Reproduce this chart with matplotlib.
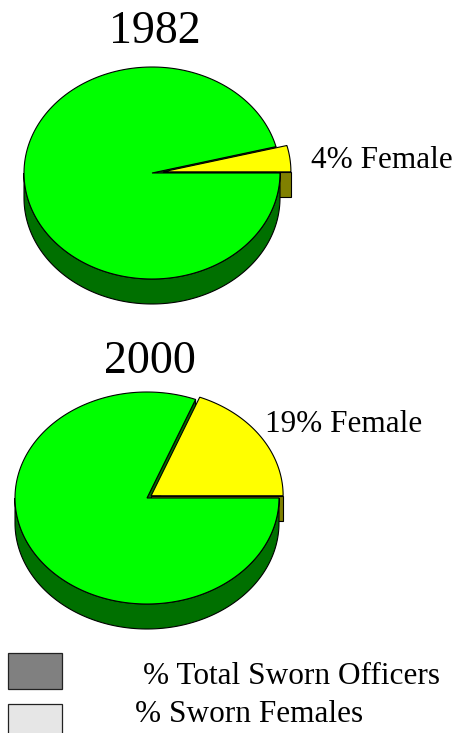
import numpy as np
import matplotlib.pyplot as plt
from matplotlib.patches import Polygon, Rectangle

# Dados do gráfico
years = ['1982', '2000']
female_pct = [4, 19]
slice_labels = ['4% Female', '19% Female']
legend_labels = ['% Total Sworn Officers', '% Sworn Females']
legend_colors = ['#808080', '#e6e6e6']

# Cores
GREEN = '#00ff00'
DARK_GREEN = '#007000'
YELLOW = '#ffff00'
OLIVE = '#808000'

plt.rcParams['font.family'] = ['Liberation Serif', 'DejaVu Serif']

fig = plt.figure(figsize=(4.70, 7.33), dpi=100)
ax = fig.add_axes([0, 0, 1, 1])
ax.set_xlim(0, 470)
ax.set_ylim(733, 0)
ax.axis('off')


def rim(cx, cy, rx, ry, ang, dz=0):
    a = np.radians(ang)
    return np.column_stack([cx + rx * np.cos(a), cy - ry * np.sin(a) + dz])


def draw_pie(ax, cx, cy, rx, ry, depth, pct, explode):
    t2 = 360 * pct / 100
    lw = 0.8
    # deslocamento da fatia amarela
    mid = np.radians(t2 / 2)
    ox = explode * np.cos(mid)
    oy = -explode * (ry / rx) * np.sin(mid)

    # face radial da fatia verde (visível no vão)
    p = rim(cx, cy, rx, ry, np.array([t2]))[0]
    ax.add_patch(Polygon([[cx, cy], p, [p[0], p[1] + depth], [cx, cy + depth]],
                         closed=True, fc=DARK_GREEN, ec='black', lw=lw, zorder=1))

    # face radial da fatia amarela (ângulo 0)
    ycx, ycy = cx + ox, cy + oy
    p = rim(ycx, ycy, rx, ry, np.array([0.0]))[0]
    ax.add_patch(Polygon([[ycx, ycy], p, [p[0], p[1] + depth], [ycx, ycy + depth]],
                         closed=True, fc=OLIVE, ec='black', lw=lw, zorder=2))

    # topo da fatia amarela
    angs = np.linspace(0, t2, 60)
    pts = np.vstack([[ycx, ycy], rim(ycx, ycy, rx, ry, angs)])
    ax.add_patch(Polygon(pts, closed=True, fc=YELLOW, ec='black', lw=lw, zorder=3))

    # lateral da fatia verde (metade frontal)
    angs = np.linspace(max(t2, 180), 360, 120)
    top = rim(cx, cy, rx, ry, angs)
    bot = rim(cx, cy, rx, ry, angs[::-1], depth)
    ax.add_patch(Polygon(np.vstack([top, bot]), closed=True, fc=DARK_GREEN,
                         ec='black', lw=lw, zorder=4))

    # topo da fatia verde
    angs = np.linspace(t2, 360, 200)
    pts = np.vstack([[cx, cy], rim(cx, cy, rx, ry, angs)])
    ax.add_patch(Polygon(pts, closed=True, fc=GREEN, ec='black', lw=lw, zorder=5))


# posições das pizzas
pies = [
    dict(cx=152, cy=173, rx=128, ry=106, depth=25, explode=11,
         title_xy=(155, 32), label_xy=(311, 160)),
    dict(cx=147, cy=498, rx=132, ry=106, depth=25, explode=5,
         title_xy=(150, 362), label_xy=(265, 424)),
]

for year, pct, lab, cfg in zip(years, female_pct, slice_labels, pies):
    draw_pie(ax, cfg['cx'], cfg['cy'], cfg['rx'], cfg['ry'], cfg['depth'],
             pct, cfg['explode'])
    ax.text(*cfg['title_xy'], year, fontsize=33, ha='center', va='center')
    ax.text(*cfg['label_xy'], lab, fontsize=22.5, ha='left', va='center')

# legenda
legend_boxes = [(8, 653), (8, 704)]
legend_text_x = [143, 135]
legend_text_y = [676, 714]
for (bx, by), col, lab, tx, ty in zip(legend_boxes, legend_colors, legend_labels,
                                      legend_text_x, legend_text_y):
    ax.add_patch(Rectangle((bx, by), 54, 36, fc=col, ec='#222222', lw=0.9))
    ax.text(tx, ty, lab, fontsize=22.5, ha='left', va='center')

fig.savefig('out.png', dpi=100)
